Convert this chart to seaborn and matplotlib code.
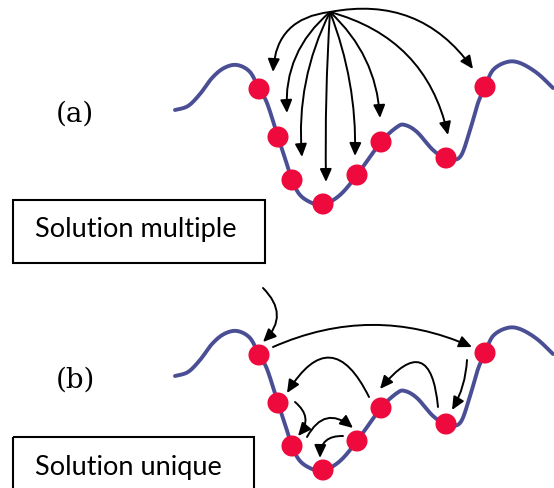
import numpy as np
import pandas as pd
import matplotlib
matplotlib.use("Agg")
import matplotlib.pyplot as plt
import seaborn as sns
from matplotlib.patches import FancyArrowPatch, Rectangle

# ---- data (pixel-space diagram coordinates) ----
curve_x = [175, 188, 200, 212, 224, 237, 250, 259, 267, 278, 285, 292, 300, 312, 323, 340, 357,
           381, 397, 405, 417, 433, 446, 460, 470, 478, 485, 493, 507, 520, 537, 553]
curve_y = [110, 106, 94, 78, 68, 65, 72, 89, 103, 137, 158, 180, 195, 203, 205, 195, 175,
           142, 127, 125, 132, 150, 158, 157, 130, 103, 87, 70, 62, 63, 73, 88]
dot_x = [259, 278, 292, 323, 357, 381, 446, 485]
dot_y = [89, 137, 180, 204, 175, 142, 158, 87]
panel_offsets = [0, 266]
panel_labels = ["(a)", "(b)"]
box_labels = ["Solution multiple", "Solution unique"]

# arrows panel (a): single source to many targets
a_source = (330, 12)
a_targets_x = [273, 287, 302, 326, 355, 380, 448, 473]
a_targets_y = [72, 113, 157, 182, 156, 118, 135, 69]
a_rads = [0.42, 0.25, 0.14, 0.02, -0.10, -0.20, -0.30, -0.32]

# arrows panel (b): chains of moves
b_start_x = [263, 273, 369, 438, 467, 295, 307, 343]
b_start_y = [288, 347, 397, 407, 360, 402, 437, 436]
b_end_x = [263, 472, 287, 380, 452, 298, 353, 320]
b_end_y = [342, 347, 393, 389, 410, 436, 428, 458]
b_rads = [-0.5, -0.22, 0.9, 1.2, -0.12, -0.5, -0.6, 0.5]

CURVE_COLOR = "#4A4F95"
DOT_COLOR = "#EE0A3C"


def catmull_rom(xs, ys, n=20):
    P = np.column_stack([xs, ys]).astype(float)
    P = np.vstack([P[0], P, P[-1]])
    out = []
    for i in range(1, len(P) - 2):
        p0, p1, p2, p3 = P[i - 1], P[i], P[i + 1], P[i + 2]
        t = np.linspace(0, 1, n, endpoint=False)[:, None]
        seg = 0.5 * ((2 * p1) + (-p0 + p2) * t + (2 * p0 - 5 * p1 + 4 * p2 - p3) * t ** 2
                     + (-p0 + 3 * p1 - 3 * p2 + p3) * t ** 3)
        out.append(seg)
    out.append(P[-2][None, :])
    return np.vstack(out)


sns.set_theme(style="white")
fig = plt.figure(figsize=(5.54, 4.88), dpi=100)
ax = fig.add_axes([0, 0, 1, 1])

smooth = catmull_rom(curve_x, curve_y)
for k, off in enumerate(panel_offsets):
    ax.plot(smooth[:, 0], smooth[:, 1] + off, color=CURVE_COLOR, lw=2.8,
            solid_capstyle="round", zorder=1)
    df_dots = pd.DataFrame({"x": dot_x, "y": np.array(dot_y) + off})
    sns.scatterplot(data=df_dots, x="x", y="y", ax=ax, s=230, color=DOT_COLOR,
                    edgecolor="none", zorder=3, legend=False)
    ax.text(75, 114 + off, panel_labels[k], ha="center", va="center",
            fontsize=20, family="DejaVu Serif", color="black")

ax.set_xlim(0, 554)
ax.set_ylim(488, 0)
ax.axis("off")

astyle = "-|>,head_length=0.55,head_width=0.25"
for tx, ty, r in zip(a_targets_x, a_targets_y, a_rads):
    ax.add_patch(FancyArrowPatch(a_source, (tx, ty), connectionstyle=f"arc3,rad={r}",
                                 arrowstyle=astyle, mutation_scale=14, lw=1.4,
                                 color="black", zorder=4, shrinkA=0, shrinkB=0))
for sx, sy, ex, ey, r in zip(b_start_x, b_start_y, b_end_x, b_end_y, b_rads):
    ax.add_patch(FancyArrowPatch((sx, sy), (ex, ey), connectionstyle=f"arc3,rad={r}",
                                 arrowstyle=astyle, mutation_scale=14, lw=1.4,
                                 color="black", zorder=4, shrinkA=0, shrinkB=0))

# label boxes
ax.add_patch(Rectangle((13, 200), 252, 63, fill=False, lw=1.5, ec="black", zorder=2))
ax.text(136, 230, box_labels[0], ha="center", va="center", fontsize=19.5,
        family="Lato", color="black")
ax.add_patch(Rectangle((13, 437), 241, 60, fill=False, lw=1.5, ec="black", zorder=2))
ax.text(128, 467, box_labels[1], ha="center", va="center", fontsize=19.5,
        family="Lato", color="black")

fig.savefig("out.png", dpi=100)
